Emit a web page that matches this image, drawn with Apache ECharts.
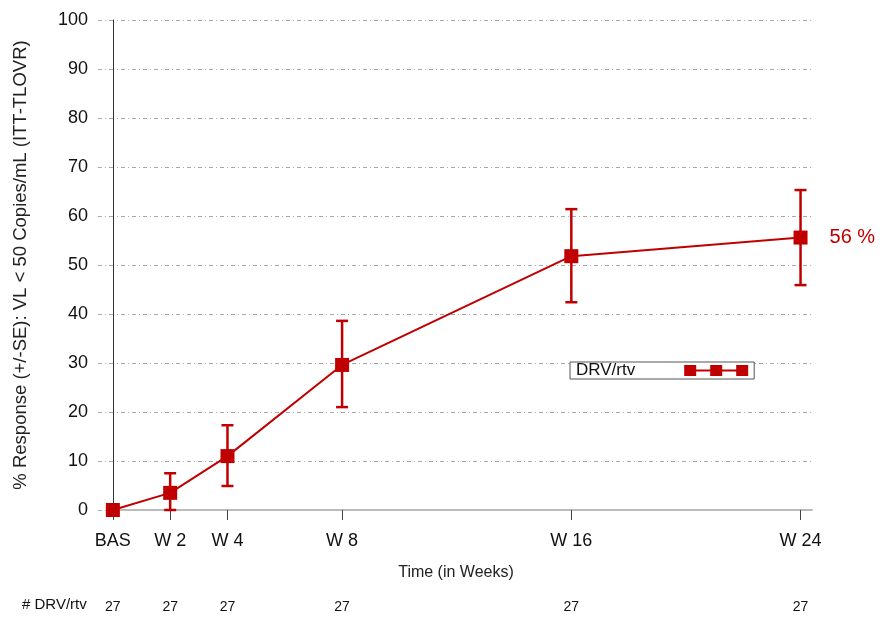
<!DOCTYPE html>
<html>
<head>
<meta charset="utf-8">
<script src="https://cdn.jsdelivr.net/npm/echarts@6/dist/echarts.min.js"></script>
<style>
  html, body { margin: 0; padding: 0; background: #fff; }
  #chart { width: 881px; height: 617px; }
</style>
</head>
<body>
<div id="chart"></div>
<script>
// visit weeks and their labels
const weeks = [0, 2, 4, 8, 16, 24]
const weekLabels = ['BAS', 'W 2', 'W 4', 'W 8', 'W 16', 'W 24']
// % response and +/- SE bounds
const response = [0, 3.5, 11.0, 29.6, 51.8, 55.6]
const lower = [0, 0, 4.9, 21.0, 42.4, 45.9]
const upper = [0, 7.5, 17.3, 38.6, 61.4, 65.3]
// number of patients at each visit
const patients = [27, 27, 27, 27, 27, 27]
const seriesName = 'DRV/rtv'
const endLabel = '56 %'

const red = '#c00000'
const font = 'Liberation Sans, Arial, sans-serif'

const labelOf = v => weekLabels[weeks.indexOf(v)]
const countOf = v => String(patients[weeks.indexOf(v)])

const chart = echarts.init(document.getElementById('chart'))

const option = {
  animation: false,
  textStyle: { fontFamily: font },
  grid: { left: 110, right: 69, top: 20, bottom: 107 },
  legend: {
    left: 570,
    top: 362,
    data: [seriesName],
    align: 'right',
    itemWidth: 64,
    itemHeight: 11,
    itemGap: 0,
    padding: [0, 6, 0, 6],
    borderColor: '#555',
    borderWidth: 1,
    borderRadius: 0,
    backgroundColor: '#fff',
    icon: 'path://M0,0h12v11h-12z M26,0h12v11h-12z M52,0h12v11h-12z M6,4.5h52v2h-52z',
    textStyle: { fontSize: 17, color: '#111', padding: [0, 44, 0, 0] }
  },
  xAxis: [
    {
      type: 'value',
      min: -0.1,
      max: 24.4,
      name: 'Time (in Weeks)',
      nameLocation: 'middle',
      nameGap: 55,
      nameTextStyle: { fontSize: 16, color: '#222', padding: [0, 10, 0, 0] },
      axisLine: { onZero: false, lineStyle: { color: '#bbb', width: 2 } },
      axisTick: {
        customValues: weeks,
        length: 10,
        lineStyle: { color: '#444', width: 1 }
      },
      axisLabel: {
        customValues: weeks,
        formatter: labelOf,
        fontSize: 18,
        color: '#111',
        margin: 22
      },
      splitLine: { show: false }
    },
    {
      type: 'value',
      min: -0.1,
      max: 24.4,
      position: 'bottom',
      offset: 82,
      axisLine: { show: false },
      axisTick: { show: false },
      axisLabel: {
        customValues: weeks,
        formatter: countOf,
        fontSize: 14,
        color: '#111'
      },
      splitLine: { show: false }
    }
  ],
  yAxis: {
    type: 'value',
    min: 0,
    max: 100,
    interval: 10,
    name: '% Response (+/-SE): VL < 50 Copies/mL (ITT-TLOVR)',
    nameLocation: 'middle',
    nameGap: 80,
    nameTextStyle: { fontSize: 18.5, color: '#222' },
    axisLine: { show: true, lineStyle: { color: '#333', width: 1 } },
    axisTick: {
      show: true,
      inside: false,
      length: 16,
      lineStyle: { color: '#aaa', type: [4, 3, 1, 3] }
    },
    axisLabel: { fontSize: 18, color: '#111', margin: 22 },
    splitLine: {
      show: true,
      lineStyle: { color: '#aaa', type: [4, 3, 1, 3] }
    }
  },
  graphic: [
    {
      type: 'text',
      left: 22,
      top: 597,
      style: { text: '# DRV/rtv', fontSize: 15, fill: '#111', fontFamily: font }
    }
  ],
  series: [
    {
      type: 'custom',
      name: 'SE',
      silent: true,
      z: 3,
      data: weeks.map((w, i) => [w, lower[i], upper[i]]),
      renderItem: (params, api) => {
        const lo = api.coord([api.value(0), api.value(1)])
        const hi = api.coord([api.value(0), api.value(2)])
        const cap = 6
        const style = { stroke: red, lineWidth: 2.5 }
        return {
          type: 'group',
          children: [
            { type: 'line', shape: { x1: lo[0], y1: lo[1], x2: hi[0], y2: hi[1] }, style },
            { type: 'line', shape: { x1: lo[0] - cap, y1: lo[1], x2: lo[0] + cap, y2: lo[1] }, style },
            { type: 'line', shape: { x1: hi[0] - cap, y1: hi[1], x2: hi[0] + cap, y2: hi[1] }, style }
          ]
        }
      }
    },
    {
      type: 'line',
      name: seriesName,
      z: 4,
      color: red,
      symbol: 'rect',
      symbolSize: 14,
      lineStyle: { color: red, width: 2 },
      itemStyle: { color: red },
      data: weeks.map((w, i) => {
        const item = { value: [w, response[i]] }
        if (i === weeks.length - 1) {
          item.label = {
            show: true,
            position: 'right',
            distance: 22,
            formatter: endLabel,
            fontSize: 20,
            color: red
          }
        }
        return item
      })
    }
  ]
}

chart.setOption(option)
</script>
</body>
</html>
